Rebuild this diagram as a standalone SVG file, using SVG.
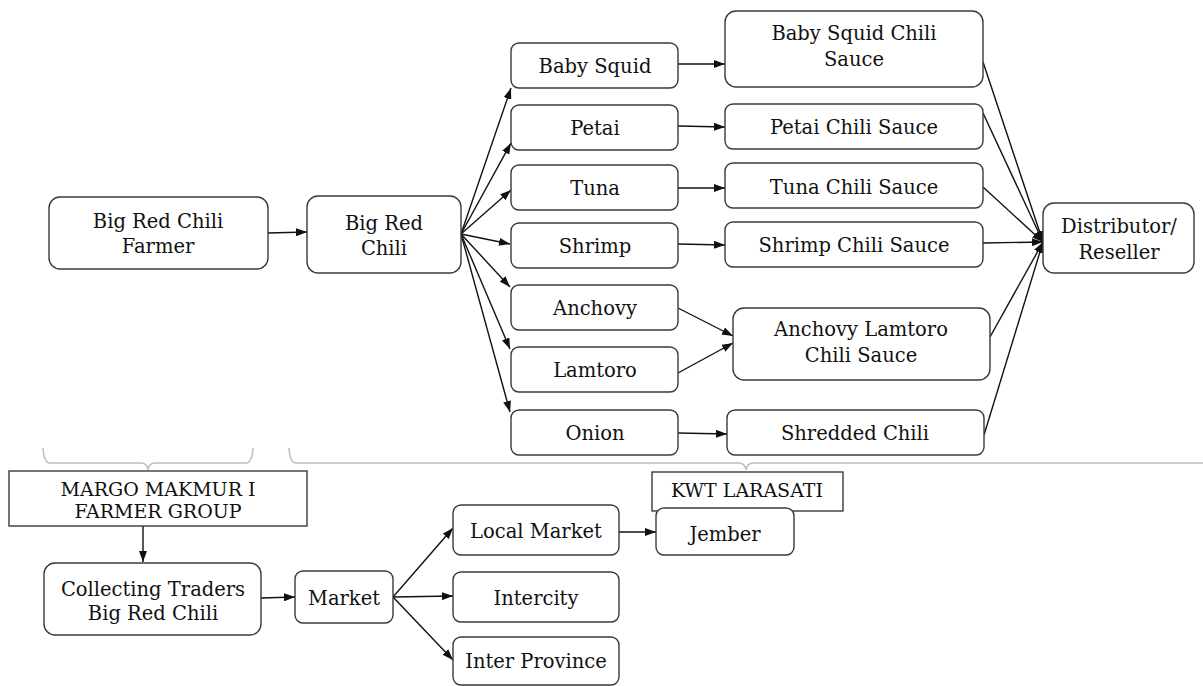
<svg xmlns="http://www.w3.org/2000/svg" width="1203" height="686" viewBox="0 0 1203 686">
<style>
.b{fill:#fff;stroke:#3a3a3a;stroke-width:1.4}
.t{font-family:"DejaVu Serif",serif;font-size:19.5px;fill:#111;text-anchor:middle}
.u{font-family:"DejaVu Serif",serif;font-size:19px;fill:#111;text-anchor:middle}
.c{fill:none;stroke:#111;stroke-width:1.4}
.a{marker-end:url(#ah)}
.br{fill:none;stroke:#bdbdbd;stroke-width:1.5}
</style>
<defs>
<marker id="ah" markerUnits="userSpaceOnUse" markerWidth="11" markerHeight="8" refX="11" refY="4" orient="auto">
<path d="M0,0 L11,4 L0,8 z" fill="#111"/>
</marker>
</defs>
<rect width="1203" height="686" fill="#fff"/>
<g id="braces">
<path class="br" d="M43,448 Q44,463 50,463 L141,463 Q147,463 148,470 Q149,463 155,463 L246,463 Q252,463 253,448"/>
<path class="br" d="M289,448 Q290,463 296,463 L739,463 Q745,463 746,470 Q747,463 753,463 L1203,463"/>
</g>
<g id="connectors">
<line class="c a" x1="268" y1="233" x2="307" y2="232"/>
<line class="c a" x1="461" y1="234" x2="511" y2="88"/>
<line class="c a" x1="461" y1="234" x2="511" y2="143"/>
<line class="c a" x1="461" y1="234" x2="511" y2="190"/>
<line class="c a" x1="461" y1="234" x2="510" y2="244"/>
<line class="c a" x1="461" y1="234" x2="510" y2="287"/>
<line class="c a" x1="461" y1="234" x2="510" y2="349"/>
<line class="c a" x1="461" y1="234" x2="510" y2="412"/>
<line class="c a" x1="678" y1="64" x2="725" y2="64"/>
<line class="c a" x1="678" y1="126" x2="725" y2="127"/>
<line class="c a" x1="678" y1="188" x2="725" y2="188"/>
<line class="c a" x1="678" y1="244" x2="725" y2="245"/>
<line class="c a" x1="678" y1="308" x2="733" y2="336"/>
<line class="c a" x1="678" y1="373" x2="733" y2="343"/>
<line class="c a" x1="678" y1="433" x2="727" y2="434"/>
<line class="c a" x1="983" y1="62" x2="1043" y2="242"/>
<line class="c a" x1="983" y1="113" x2="1043" y2="242"/>
<line class="c a" x1="983" y1="187" x2="1043" y2="242"/>
<line class="c a" x1="982" y1="243" x2="1043" y2="242"/>
<line class="c a" x1="990" y1="337" x2="1043" y2="242"/>
<line class="c a" x1="984" y1="435" x2="1043" y2="242"/>
<line class="c a" x1="143" y1="526" x2="143" y2="562"/>
<line class="c a" x1="261" y1="598" x2="295" y2="597"/>
<line class="c a" x1="393" y1="597" x2="453" y2="528"/>
<line class="c a" x1="393" y1="597" x2="453" y2="596"/>
<line class="c a" x1="393" y1="597" x2="453" y2="660"/>
<line class="c a" x1="619" y1="532" x2="656" y2="532"/>
</g>
<g id="farmer"><rect class="b" x="49" y="197" width="219" height="72" rx="11"/><text class="t" x="158" y="228">Big Red Chili</text><text class="t" x="158" y="253">Farmer</text></g>
<g id="bigredchili"><rect class="b" x="307" y="196" width="154" height="77" rx="11"/><text class="t" x="384" y="230">Big Red</text><text class="t" x="384" y="255">Chili</text></g>
<g id="babysquid"><rect class="b" x="511" y="43" width="167" height="45" rx="8"/><text class="t" x="595" y="73">Baby Squid</text></g>
<g id="petai"><rect class="b" x="511" y="105" width="167" height="45" rx="8"/><text class="t" x="595" y="135">Petai</text></g>
<g id="tuna"><rect class="b" x="511" y="165" width="167" height="45" rx="8"/><text class="t" x="595" y="195">Tuna</text></g>
<g id="shrimp"><rect class="b" x="511" y="223" width="167" height="45" rx="8"/><text class="t" x="595" y="253">Shrimp</text></g>
<g id="anchovy"><rect class="b" x="511" y="285" width="167" height="45" rx="8"/><text class="t" x="595" y="315">Anchovy</text></g>
<g id="lamtoro"><rect class="b" x="511" y="347" width="167" height="45" rx="8"/><text class="t" x="595" y="377">Lamtoro</text></g>
<g id="onion"><rect class="b" x="511" y="410" width="167" height="45" rx="8"/><text class="t" x="595" y="440">Onion</text></g>
<g id="bscs"><rect class="b" x="725" y="11" width="258" height="76" rx="11"/><text class="t" x="854" y="40">Baby Squid Chili</text><text class="t" x="854" y="66">Sauce</text></g>
<g id="pcs"><rect class="b" x="725" y="104" width="258" height="45" rx="8"/><text class="t" x="854" y="134">Petai Chili Sauce</text></g>
<g id="tcs"><rect class="b" x="725" y="163" width="258" height="45" rx="8"/><text class="t" x="854" y="194">Tuna Chili Sauce</text></g>
<g id="scs"><rect class="b" x="725" y="222" width="258" height="45" rx="8"/><text class="t" x="854" y="252">Shrimp Chili Sauce</text></g>
<g id="alcs"><rect class="b" x="733" y="308" width="257" height="72" rx="11"/><text class="t" x="861" y="336">Anchovy Lamtoro</text><text class="t" x="861" y="362">Chili Sauce</text></g>
<g id="shredded"><rect class="b" x="727" y="410" width="257" height="45" rx="8"/><text class="t" x="855" y="440">Shredded Chili</text></g>
<g id="distributor"><rect class="b" x="1043" y="203" width="151" height="70" rx="11"/><text class="t" x="1119" y="233">Distributor/</text><text class="t" x="1119" y="259">Reseller</text></g>
<g id="margo"><rect class="b" x="9" y="471" width="298" height="55"/><text class="u" x="158" y="496">MARGO MAKMUR I</text><text class="u" x="158" y="518">FARMER GROUP</text></g>
<g id="collecting"><rect class="b" x="44" y="563" width="217" height="72" rx="11"/><text class="t" x="153" y="596">Collecting Traders</text><text class="t" x="153" y="620">Big Red Chili</text></g>
<g id="market"><rect class="b" x="295" y="571" width="98" height="52" rx="8"/><text class="t" x="344" y="605">Market</text></g>
<g id="localmarket"><rect class="b" x="453" y="505" width="166" height="50" rx="8"/><text class="t" x="536" y="538">Local Market</text></g>
<g id="intercity"><rect class="b" x="453" y="572" width="166" height="50" rx="8"/><text class="t" x="536" y="605">Intercity</text></g>
<g id="interprovince"><rect class="b" x="453" y="637" width="166" height="48" rx="8"/><text class="t" x="536" y="668">Inter Province</text></g>
<g id="kwt"><rect class="b" x="652" y="472" width="191" height="39"/><text class="u" x="747" y="497">KWT LARASATI</text></g>
<g id="jember"><rect class="b" x="656" y="508" width="138" height="47" rx="8"/><text class="t" x="725" y="541">Jember</text></g>
</svg>
